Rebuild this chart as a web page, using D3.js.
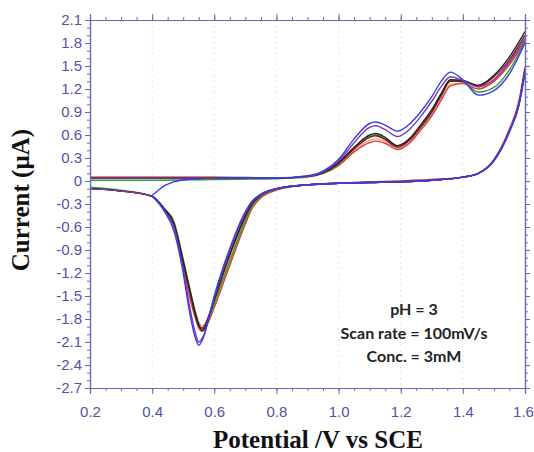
<!DOCTYPE html>
<html>
<head>
<meta charset="utf-8">
<script src="https://cdn.jsdelivr.net/npm/d3@7"></script>
<style>
  body { margin: 0; background: #fff; }
  svg { display: block; }
</style>
</head>
<body>
<div id="chart"></div>
<script>
// potentials (V vs SCE) for the anodic (forward) and cathodic (reverse) sweeps
const forwardV = [0.2, 0.4, 0.6, 0.8, 0.9, 0.95, 1.0, 1.05, 1.1, 1.12, 1.15, 1.19, 1.23, 1.26, 1.3, 1.33, 1.36, 1.4, 1.45, 1.5, 1.55, 1.6];
const reverseV = [1.6, 1.58, 1.55, 1.5, 1.45, 1.4, 1.3, 1.2, 1.1, 1.0, 0.9, 0.8, 0.75, 0.72, 0.7, 0.65, 0.6, 0.58, 0.57, 0.56, 0.55, 0.54, 0.52, 0.5, 0.47, 0.44, 0.4, 0.3, 0.2];

// first cycle starts at 0.4 V
const blueStartV = [0.40, 0.42, 0.44, 0.47, 0.51, 0.56];
const blueStartI = [-0.19, -0.12, -0.06, -0.01, 0.02, 0.03];

// currents (uA) read per cycle
const blueFwd   = [null, null, 0.04, 0.04, 0.07, 0.13, 0.28, 0.55, 0.75, 0.77, 0.73, 0.65, 0.75, 0.88, 1.1, 1.3, 1.42, 1.32, 1.12, 1.18, 1.4, 1.8];
const purpleFwd = [0.04, 0.04, 0.04, 0.04, 0.06, 0.12, 0.26, 0.5, 0.7, 0.72, 0.67, 0.58, 0.68, 0.82, 1.04, 1.23, 1.36, 1.31, 1.23, 1.32, 1.55, 1.85];
const blackFwd  = [0.04, 0.04, 0.04, 0.04, 0.06, 0.11, 0.24, 0.44, 0.6, 0.62, 0.57, 0.46, 0.56, 0.71, 0.93, 1.14, 1.32, 1.31, 1.25, 1.38, 1.62, 1.95];
const maroonFwd = [0.04, 0.04, 0.04, 0.04, 0.06, 0.11, 0.23, 0.42, 0.57, 0.59, 0.54, 0.44, 0.54, 0.68, 0.9, 1.11, 1.3, 1.3, 1.24, 1.36, 1.58, 1.9];
const greenFwd  = [0.01, 0.01, 0.02, 0.03, 0.05, 0.1, 0.22, 0.42, 0.58, 0.6, 0.55, 0.46, 0.55, 0.69, 0.9, 1.12, 1.31, 1.29, 1.16, 1.22, 1.45, 1.82];
const redFwd    = [0.05, 0.05, 0.05, 0.04, 0.06, 0.1, 0.2, 0.38, 0.5, 0.52, 0.49, 0.41, 0.5, 0.64, 0.85, 1.05, 1.24, 1.27, 1.2, 1.3, 1.52, 1.82];
const salmonFwd = [0.05, 0.05, 0.05, 0.04, 0.06, 0.1, 0.21, 0.4, 0.53, 0.55, 0.51, 0.43, 0.52, 0.66, 0.88, 1.08, 1.26, 1.28, 1.22, 1.33, 1.55, 1.88];

const blueRev   = [1.42, 0.98, 0.64, 0.26, 0.1, 0.05, 0.01, -0.01, -0.02, -0.03, -0.05, -0.1, -0.17, -0.27, -0.4, -0.88, -1.5, -1.82, -1.98, -2.09, -2.14, -2.06, -1.7, -1.2, -0.65, -0.4, -0.2, null, null];
const purpleRev = [1.44, 1.0, 0.66, 0.27, 0.1, 0.05, 0.01, -0.01, -0.02, -0.03, -0.05, -0.1, -0.18, -0.28, -0.42, -0.9, -1.52, -1.82, -1.97, -2.06, -2.1, -2.0, -1.62, -1.15, -0.6, -0.39, -0.2, -0.13, -0.1];
const blackRev  = [1.45, 1.0, 0.66, 0.27, 0.1, 0.05, 0.01, -0.01, -0.02, -0.03, -0.05, -0.1, -0.18, -0.3, -0.45, -0.95, -1.55, -1.8, -1.92, -1.95, -1.88, -1.75, -1.4, -1.05, -0.55, -0.37, -0.2, -0.13, -0.1];
const maroonRev = [1.45, 1.0, 0.66, 0.27, 0.1, 0.05, 0.01, -0.01, -0.02, -0.03, -0.05, -0.1, -0.19, -0.31, -0.47, -0.97, -1.55, -1.78, -1.88, -1.92, -1.88, -1.76, -1.42, -1.07, -0.56, -0.37, -0.2, -0.13, -0.1];
const greenRev  = [1.4, 0.98, 0.65, 0.27, 0.1, 0.05, 0.01, -0.01, -0.02, -0.03, -0.05, -0.11, -0.2, -0.34, -0.52, -1.05, -1.6, -1.82, -1.9, -1.93, -1.86, -1.72, -1.38, -1.02, -0.53, -0.36, -0.2, -0.12, -0.08];
const redRev    = [1.48, 1.02, 0.67, 0.28, 0.1, 0.05, 0.02, 0, -0.01, -0.03, -0.05, -0.12, -0.22, -0.37, -0.56, -1.1, -1.65, -1.85, -1.93, -1.96, -1.92, -1.8, -1.5, -1.12, -0.6, -0.38, -0.2, -0.13, -0.1];
const salmonRev = [1.5, 1.05, 0.68, 0.28, 0.1, 0.05, 0.02, 0, -0.01, -0.03, -0.05, -0.11, -0.2, -0.33, -0.5, -1.02, -1.58, -1.8, -1.87, -1.89, -1.84, -1.72, -1.4, -1.05, -0.56, -0.37, -0.2, -0.13, -0.1];

const cycleColors = ["#f4a07a", "#e03a3a", "#2aa02a", "#7a1f2e", "#222222", "#7a3aa8", "#3a3af0"];
const cycleFwd = [salmonFwd, redFwd, greenFwd, maroonFwd, blackFwd, purpleFwd, blueFwd];
const cycleRev = [salmonRev, redRev, greenRev, maroonRev, blackRev, purpleRev, blueRev];

const xTicks = [0.2, 0.4, 0.6, 0.8, 1.0, 1.2, 1.4, 1.6];
const yTicks = [2.1, 1.8, 1.5, 1.2, 0.9, 0.6, 0.3, 0, -0.3, -0.6, -0.9, -1.2, -1.5, -1.8, -2.1, -2.4, -2.7];
const notes = ["pH = 3", "Scan rate = 100mV/s", "Conc. = 3mM"];

const W = 534, H = 452;
const margin = { left: 90, right: 9, top: 20, bottom: 64 };
const axisColor = "#6a6ab4";
const labelColor = "#5252a6";

const svg = d3.select("#chart").append("svg")
  .attr("width", W)
  .attr("height", H);

const x = d3.scaleLinear().domain([0.2, 1.6]).range([margin.left, W - margin.right]);
const y = d3.scaleLinear().domain([-2.7, 2.1]).range([H - margin.bottom, margin.top]);

// dotted vertical gridlines
svg.append("g")
  .selectAll("line")
  .data(xTicks.slice(1, -1))
  .join("line")
    .attr("x1", d => x(d)).attr("x2", d => x(d))
    .attr("y1", y.range()[1]).attr("y2", y.range()[0])
    .attr("stroke", "#dcdcdc")
    .attr("stroke-dasharray", "1.5,4");

// curves
const line = d3.line()
  .defined(d => d[1] != null)
  .x(d => x(d[0]))
  .y(d => y(d[1]))
  .curve(d3.curveMonotoneX);

const curves = svg.append("g").attr("fill", "none").attr("stroke-width", 1.4);

cycleColors.forEach((c, k) => {
  const fwd = forwardV.map((v, i) => [v, cycleFwd[k][i]]);
  const rev = reverseV.map((v, i) => [v, cycleRev[k][i]]);
  curves.append("path").attr("stroke", c).attr("d", line(fwd));
  curves.append("path").attr("stroke", c).attr("d", line(rev));
});
curves.append("path")
  .attr("stroke", cycleColors[6])
  .attr("d", line(blueStartV.map((v, i) => [v, blueStartI[i]])));

// axes (ticks facing out on all four sides)
const minorX = d3.range(0.2, 1.6001, 0.05);
const minorY = d3.range(-2.7, 2.1001, 0.1);

function styleAxis(g) {
  g.selectAll("path.domain").attr("stroke", axisColor).attr("stroke-width", 1.2);
  g.selectAll(".tick line").attr("stroke", axisColor);
  g.selectAll("text")
    .attr("fill", labelColor)
    .attr("font-family", "'Liberation Sans', Arial, sans-serif")
    .attr("font-size", "15px");
}

const xAxisBottom = svg.append("g").attr("transform", `translate(0,${y(-2.7)})`);
xAxisBottom.call(d3.axisBottom(x).tickValues(minorX).tickSize(3).tickFormat(""));
xAxisBottom.append("g").call(d3.axisBottom(x).tickValues(xTicks).tickSize(6).tickPadding(12).tickFormat(d3.format(".1f")));
xAxisBottom.call(styleAxis);
// last label sits against the window edge
xAxisBottom.selectAll(".tick text").filter(d => d === 1.6).attr("dx", -2);

const xAxisTop = svg.append("g").attr("transform", `translate(0,${y(2.1)})`);
xAxisTop.call(d3.axisTop(x).tickValues(minorX).tickSize(3).tickFormat(""));
xAxisTop.append("g").call(d3.axisTop(x).tickValues(xTicks).tickSize(6).tickFormat(""));
xAxisTop.call(styleAxis);

const yAxisLeft = svg.append("g").attr("transform", `translate(${x(0.2)},0)`);
yAxisLeft.call(d3.axisLeft(y).tickValues(minorY).tickSize(3).tickFormat(""));
yAxisLeft.append("g").call(d3.axisLeft(y).tickValues(yTicks).tickSize(5).tickPadding(3).tickFormat(d => d === 0 ? "0" : d3.format(".1f")(d).replace("−", "-")));
yAxisLeft.call(styleAxis);

const yAxisRight = svg.append("g").attr("transform", `translate(${x(1.6)},0)`);
yAxisRight.call(d3.axisRight(y).tickValues(minorY).tickSize(3).tickFormat(""));
yAxisRight.append("g").call(d3.axisRight(y).tickValues(yTicks).tickSize(5).tickFormat(""));
yAxisRight.call(styleAxis);

// axis titles
svg.append("text")
  .attr("x", 318)
  .attr("y", 448)
  .attr("text-anchor", "middle")
  .attr("font-family", "'Liberation Serif', 'Times New Roman', serif")
  .attr("font-weight", "bold")
  .attr("font-size", "25px")
  .attr("fill", "#111")
  .text("Potential /V vs SCE");

svg.append("text")
  .attr("transform", "translate(29,200) rotate(-90)")
  .attr("text-anchor", "middle")
  .attr("font-family", "'Liberation Serif', 'Times New Roman', serif")
  .attr("font-weight", "bold")
  .attr("font-size", "25px")
  .attr("fill", "#111")
  .text("Current (µA)");

// experiment conditions
svg.append("g")
  .selectAll("text")
  .data(notes)
  .join("text")
    .attr("x", 414)
    .attr("y", (d, i) => 315 + i * 23.5)
    .attr("text-anchor", "middle")
    .attr("font-family", "Lato, 'Open Sans', sans-serif")
    .attr("font-weight", "bold")
    .attr("font-size", "16px")
    .attr("fill", "#222")
    .text(d => d);
</script>
</body>
</html>
